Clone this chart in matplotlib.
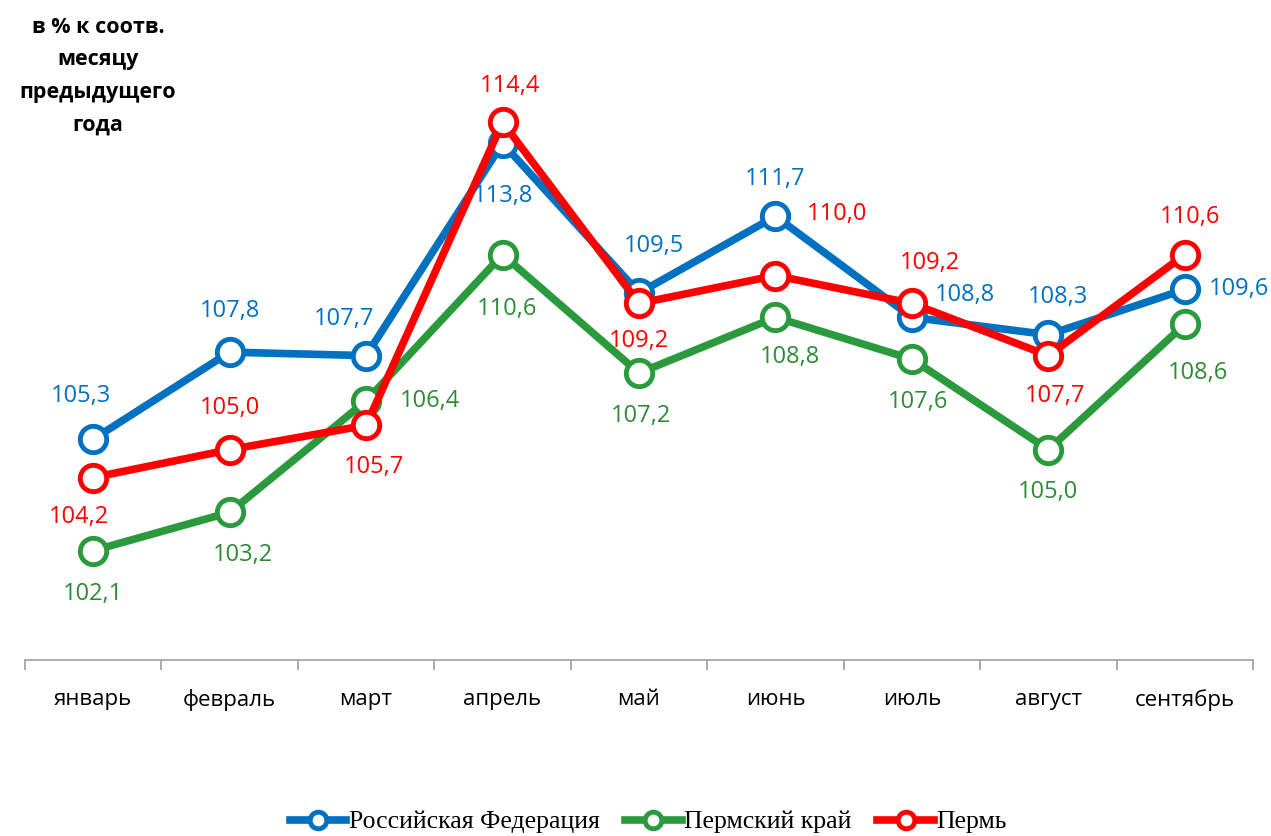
import numpy as np
import matplotlib.pyplot as plt
from matplotlib.lines import Line2D

months = ['январь', 'февраль', 'март', 'апрель', 'май', 'июнь', 'июль', 'август', 'сентябрь']
rf = [105.3, 107.8, 107.7, 113.8, 109.5, 111.7, 108.8, 108.3, 109.6]
perm_krai = [102.1, 103.2, 106.4, 110.6, 107.2, 108.8, 107.6, 105.0, 108.6]
perm = [104.2, 105.0, 105.7, 114.4, 109.2, 110.0, 109.2, 107.7, 110.6]
names = ['Российская Федерация', 'Пермский край', 'Пермь']

# label offsets, pixels from the point
off_rf = [(-12, 43), (0, 41), (-22, 37), (0, -53), (15, 47), (0, 37), (53, 22), (10, 38), (54, 0)]
off_krai = [(0, -43), (13, -43), (64, 0), (4, -54), (2, -43), (14, -40), (6, -43), (0, -42), (13, -49)]
off_perm = [(-14, -39), (0, 42), (8, -42), (7, 36), (0, -38), (62, 62), (18, 40), (7, -40), (5, 38)]

c_blue = '#0070C0'
c_green = '#2A9A3C'
c_green_txt = '#2E8B35'
c_red = '#FF0000'

fig = plt.figure(figsize=(12.71, 8.36), dpi=100)
ax = fig.add_axes([25 / 1271, 1 - 660 / 836, 1228 / 1271, (660 - 101.4) / 836])

x = np.arange(len(months))
series = [(perm_krai, c_green, c_green_txt, off_krai, names[1]),
          (rf, c_blue, c_blue, off_rf, names[0]),
          (perm, c_red, c_red, off_perm, names[2])]
for vals, col, tcol, offs, nm in series:
    ax.plot(x, vals, color=col, lw=5.5, marker='o', ms=19, mfc='white',
            mec=col, mew=3.5, solid_capstyle='round')
    for xi, v, (dx, dy) in zip(x, vals, offs):
        ax.annotate(('%.1f' % v).replace('.', ','), (xi, v), xytext=(dx, dy),
                    textcoords='offset pixels', ha='center', va='center',
                    fontsize=17, color=tcol, family='Open Sans', zorder=5)

ax.set_xlim(-0.5, 8.5)
ax.set_ylim(98.96, 115)
for s in ['top', 'right', 'left']:
    ax.spines[s].set_visible(False)
ax.spines['bottom'].set_color('#A6A6A6')
ax.spines['bottom'].set_linewidth(1.3)
ax.set_yticks([])
ax.set_xticks(x)
ax.set_xticklabels(months, fontsize=16, family='Open Sans')
ax.tick_params(axis='x', which='major', length=0, pad=21)
ax.set_xticks(np.arange(-0.5, 9, 1), minor=True)
ax.tick_params(axis='x', which='minor', length=7, width=1.3, color='#A6A6A6', direction='out')

fig.text(98 / 1271, 1 - 76 / 836, 'в % к соотв.\nмесяцу\nпредыдущего\nгода', ha='center', va='center',
         fontsize=15.5, fontweight='bold', family='Open Sans', linespacing=1.72)

handles = [Line2D([], [], color=c, lw=5.5, marker='o', ms=12, mfc='white', mec=c, mew=3.5)
           for c in [c_blue, c_green, c_red]]
fig.legend(handles, names, loc='center', bbox_to_anchor=(0.51, 1 - 822 / 836), ncol=3,
           frameon=False, handlelength=2.2, handletextpad=0.1, columnspacing=1.0,
           prop={'family': 'Liberation Serif', 'size': 18.5})

fig.savefig('out.png', dpi=100)
